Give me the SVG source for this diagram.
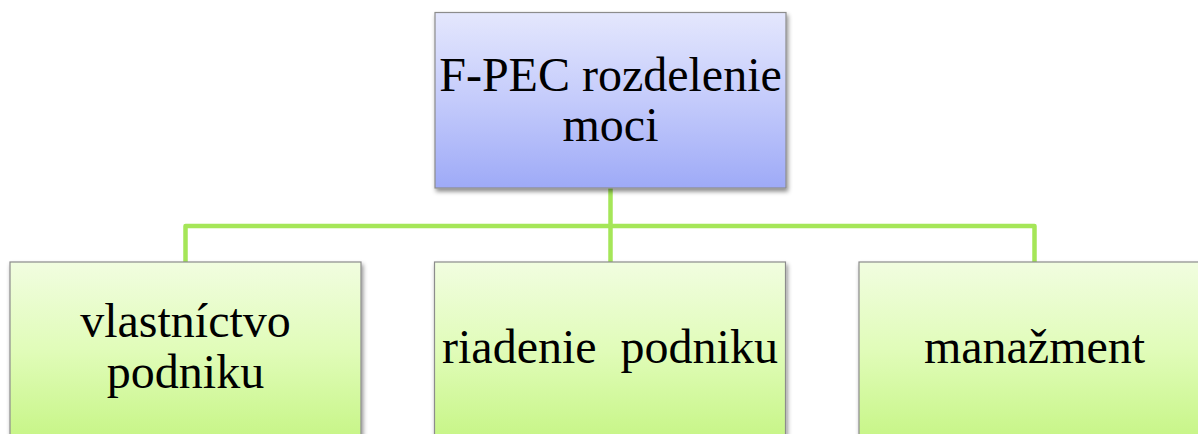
<svg xmlns="http://www.w3.org/2000/svg" width="1198" height="434" viewBox="0 0 1198 434">
  <defs>
    <linearGradient id="gradTop" x1="0" y1="0" x2="0" y2="1">
      <stop offset="0" stop-color="#e4e7fd"/>
      <stop offset="0.5" stop-color="#c4cbfb"/>
      <stop offset="1" stop-color="#9eaaf7"/>
    </linearGradient>
    <linearGradient id="gradLeaf" x1="0" y1="0" x2="0" y2="1">
      <stop offset="0" stop-color="#f1fde0"/>
      <stop offset="0.5" stop-color="#e0fcb8"/>
      <stop offset="1" stop-color="#c6f585"/>
    </linearGradient>
    <filter id="shadow" x="-10%" y="-10%" width="125%" height="130%">
      <feDropShadow dx="1.5" dy="3" stdDeviation="2" flood-color="#000" flood-opacity="0.45"/>
    </filter>
  </defs>
  <style>
    .box { stroke: #8c8c8c; stroke-width: 1.2; filter: url(#shadow); }
    .top { fill: url(#gradTop); }
    .leaf { fill: url(#gradLeaf); }
    .conn { fill: none; stroke: #a5e658; stroke-width: 4.5; stroke-linejoin: round; }
    .label { font-family: 'Liberation Serif', 'Times New Roman', serif; font-size: 48px; fill: #000; text-anchor: middle; }
  </style>

  <rect width="1198" height="434" fill="#ffffff"/>

  <!-- connectors from the root to the three branches -->
  <g id="connectors">
    <path class="conn" d="M610.5 188 V226"/>
    <path class="conn" d="M185.5 262 V226 H1034.5 V262"/>
    <path class="conn" d="M610.5 226 V262"/>
  </g>

  <g id="node-root">
    <rect class="box top" x="435" y="12.5" width="351" height="175.5"/>
    <text class="label" x="610.5" y="91">F-PEC rozdelenie</text>
    <text class="label" x="610.5" y="141">moci</text>
  </g>

  <g id="node-vlastnictvo">
    <rect class="box leaf" x="10" y="262" width="351" height="180"/>
    <text class="label" x="185.5" y="337">vlastníctvo</text>
    <text class="label" x="185.5" y="388">podniku</text>
  </g>

  <g id="node-riadenie">
    <rect class="box leaf" x="434.5" y="262" width="351" height="180"/>
    <text class="label" x="610" y="363" xml:space="preserve">riadenie  podniku</text>
  </g>

  <g id="node-manazment">
    <rect class="box leaf" x="859" y="262" width="351" height="180"/>
    <text class="label" x="1034.5" y="363">manažment</text>
  </g>
</svg>
